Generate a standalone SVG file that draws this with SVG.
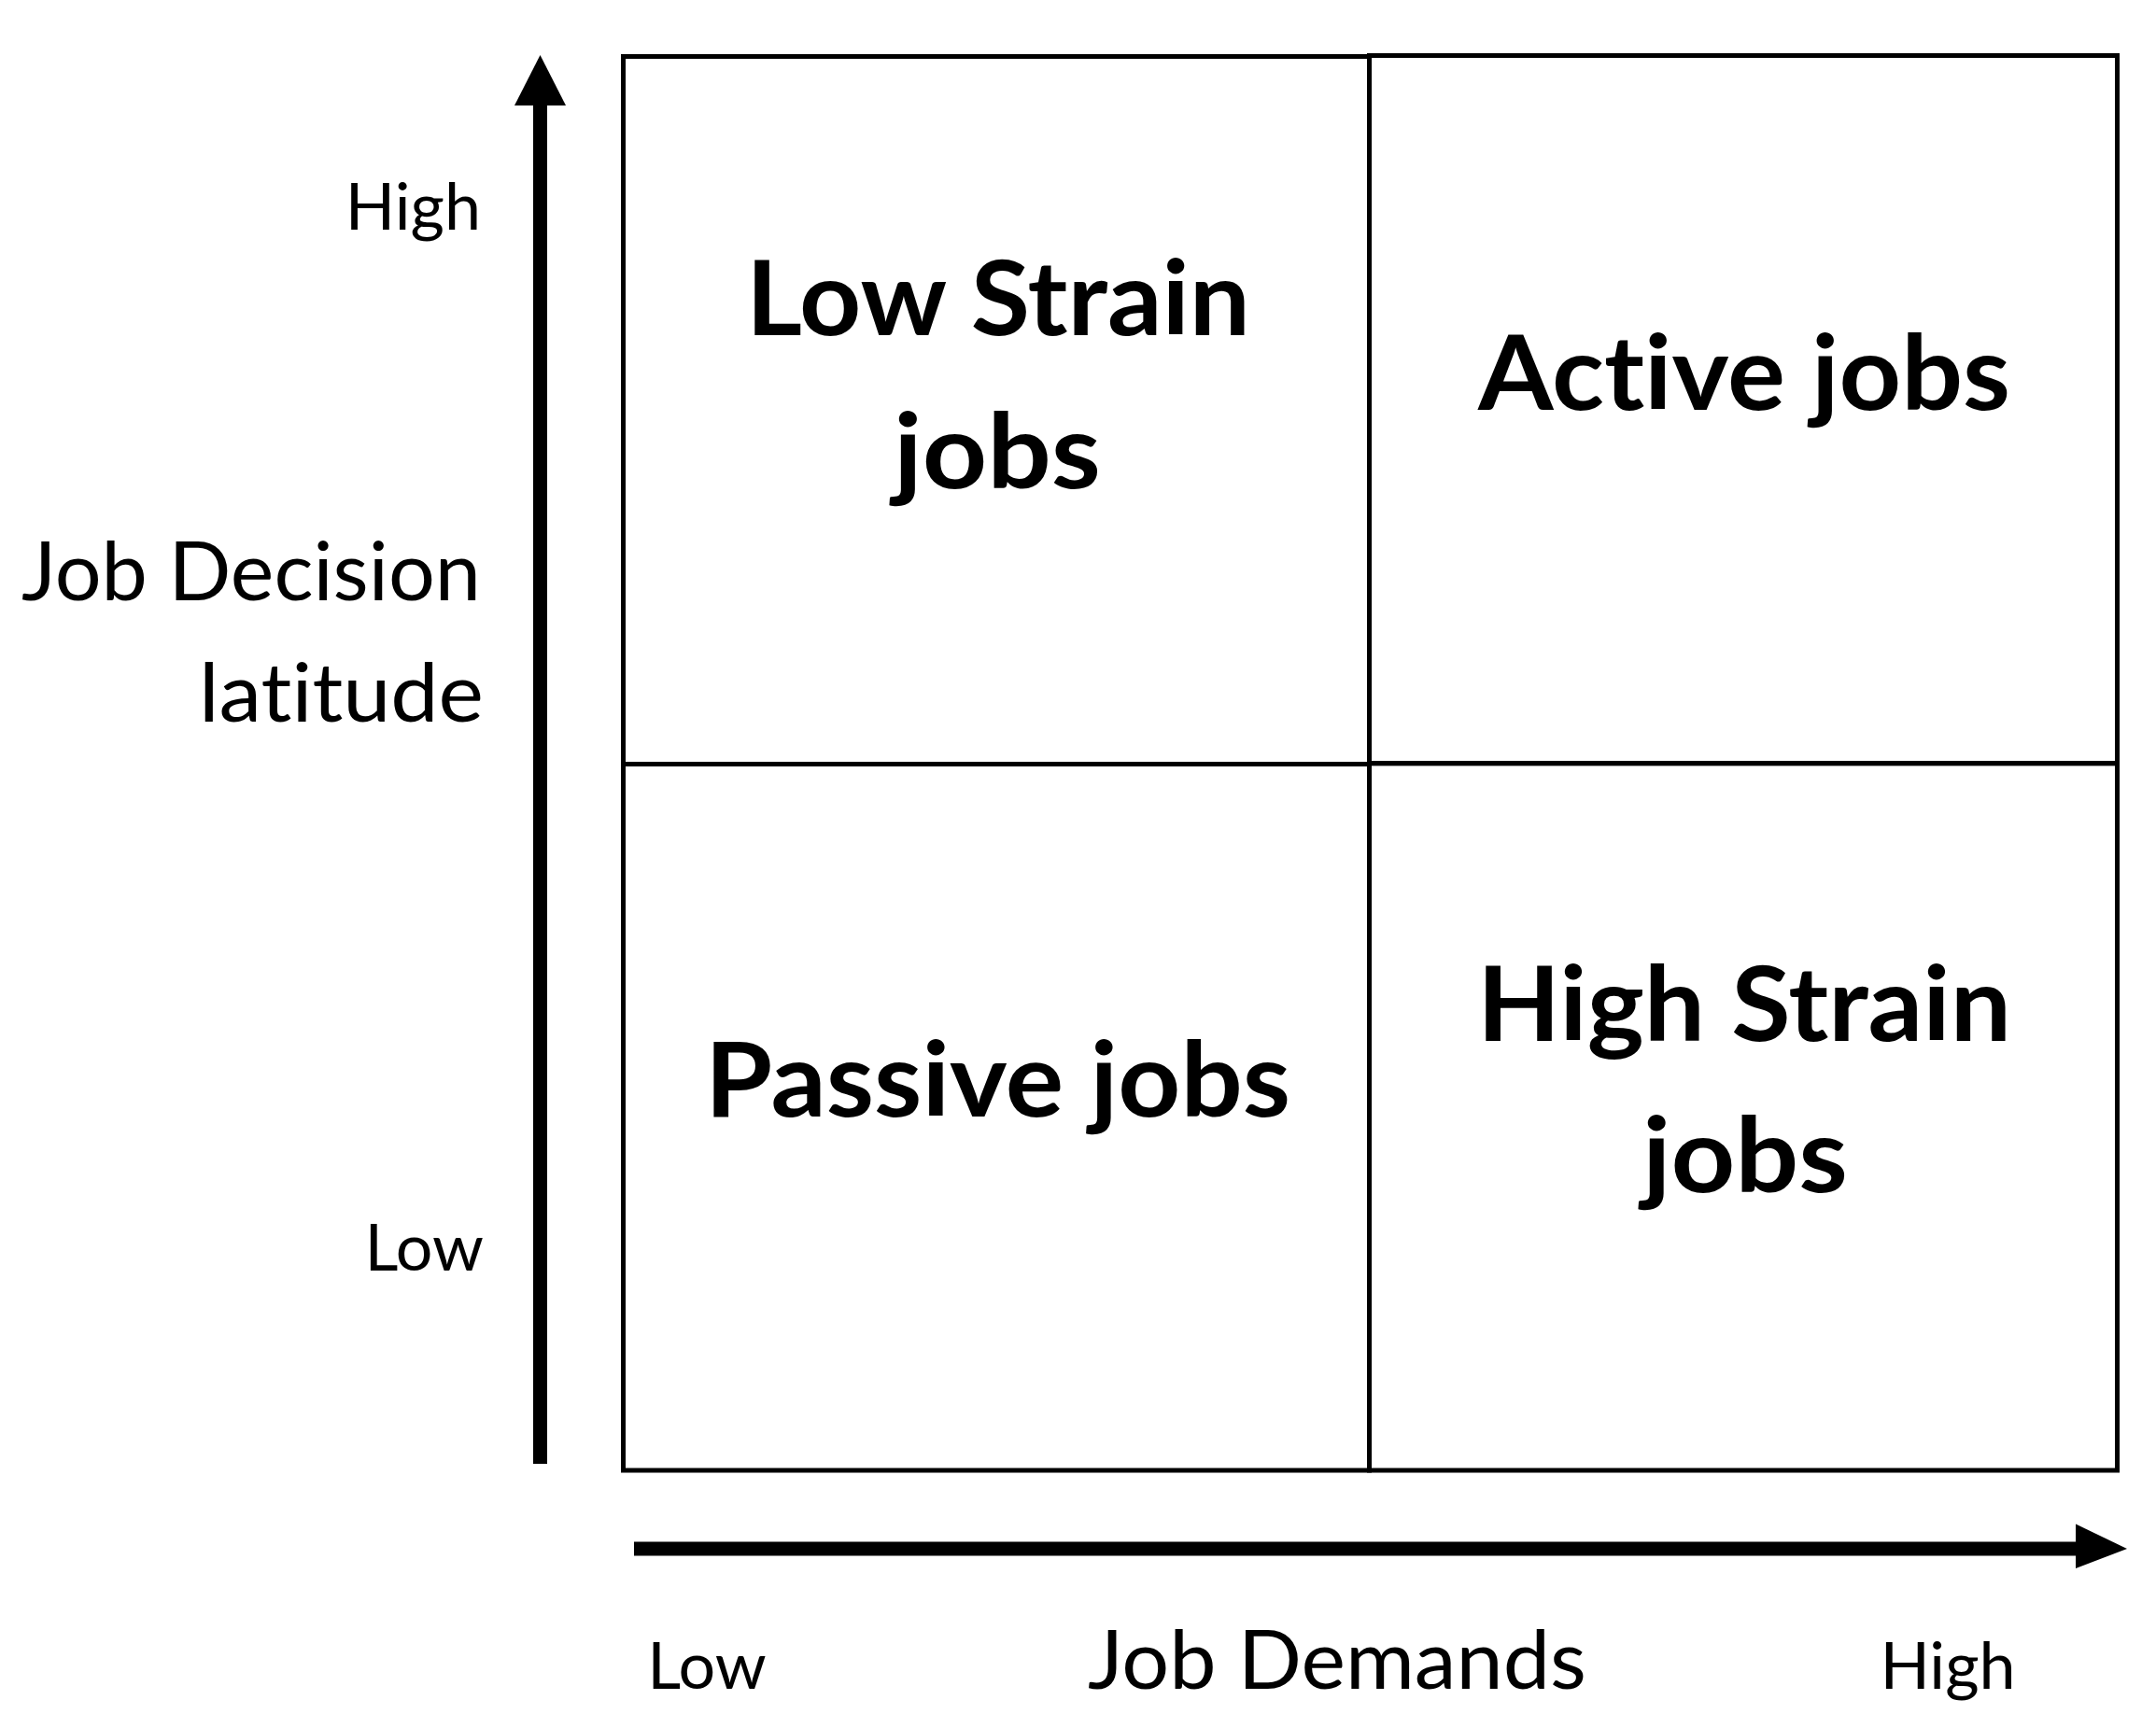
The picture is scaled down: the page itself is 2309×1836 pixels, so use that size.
<svg xmlns="http://www.w3.org/2000/svg" width="2309" height="1836" viewBox="0 0 2309 1836">
<style>
text{font-variant-ligatures:none;font-feature-settings:"liga" 0,"clig" 0}
.cell{fill:none;stroke:#000;stroke-width:5}
.q{font-family:Lato,"Liberation Sans",sans-serif;font-weight:bold;font-size:112px;fill:#000;text-anchor:middle}
.ax{font-family:Lato,"Liberation Sans",sans-serif;font-size:88px;fill:#000}
.lv{font-family:Lato,"Liberation Sans",sans-serif;font-size:70px;fill:#000}
.shaft{stroke:#000;stroke-width:15;fill:none}
</style>
<rect width="2309" height="1836" fill="#fff"/>
<g id="quadrant-low-strain">
<rect class="cell" x="667.5" y="60.5" width="799" height="758"/>
<text class="q" x="1069" y="359" textLength="540" lengthAdjust="spacingAndGlyphs">Low Strain</text>
<text class="q" x="1068" y="523" textLength="222" lengthAdjust="spacingAndGlyphs">jobs</text>
</g>
<g id="quadrant-active">
<rect class="cell" x="1466.5" y="59.5" width="801" height="758.2"/>
<text class="q" x="1868" y="439" textLength="570" lengthAdjust="spacingAndGlyphs">Active jobs</text>
</g>
<g id="quadrant-passive">
<rect class="cell" x="667.5" y="818.5" width="799" height="756.5"/>
<text class="q" x="1068.5" y="1196" textLength="627" lengthAdjust="spacingAndGlyphs">Passive jobs</text>
</g>
<g id="quadrant-high-strain">
<rect class="cell" x="1466.5" y="817.7" width="801" height="757.3"/>
<text class="q" x="1868" y="1115" textLength="572" lengthAdjust="spacingAndGlyphs">High Strain</text>
<text class="q" x="1869" y="1277" textLength="220" lengthAdjust="spacingAndGlyphs">jobs</text>
</g>
<g id="connectors">
<line class="shaft" x1="578.5" y1="1568" x2="578.5" y2="110"/>
<polygon points="551,113 606,113 578.5,59" fill="#000"/>
<line class="shaft" x1="679" y1="1659" x2="2226" y2="1659"/>
<polygon points="2223,1632.5 2223,1680 2278,1659" fill="#000"/>
</g>
<g id="y-axis-labels">
<text class="lv" x="515" y="246" text-anchor="end">High</text>
<text class="ax" x="515" y="643" text-anchor="end" textLength="492" lengthAdjust="spacingAndGlyphs">Job Decision</text>
<text class="ax" x="518" y="773" text-anchor="end" textLength="305" lengthAdjust="spacingAndGlyphs">latitude</text>
<text class="lv" x="518" y="1361" text-anchor="end">Low</text>
</g>
<g id="x-axis-labels">
<text class="lv" x="757" y="1809" text-anchor="middle">Low</text>
<text class="ax" x="1432" y="1809" text-anchor="middle" textLength="534" lengthAdjust="spacingAndGlyphs">Job Demands</text>
<text class="lv" x="2086" y="1809" text-anchor="middle">High</text>
</g>
</svg>
